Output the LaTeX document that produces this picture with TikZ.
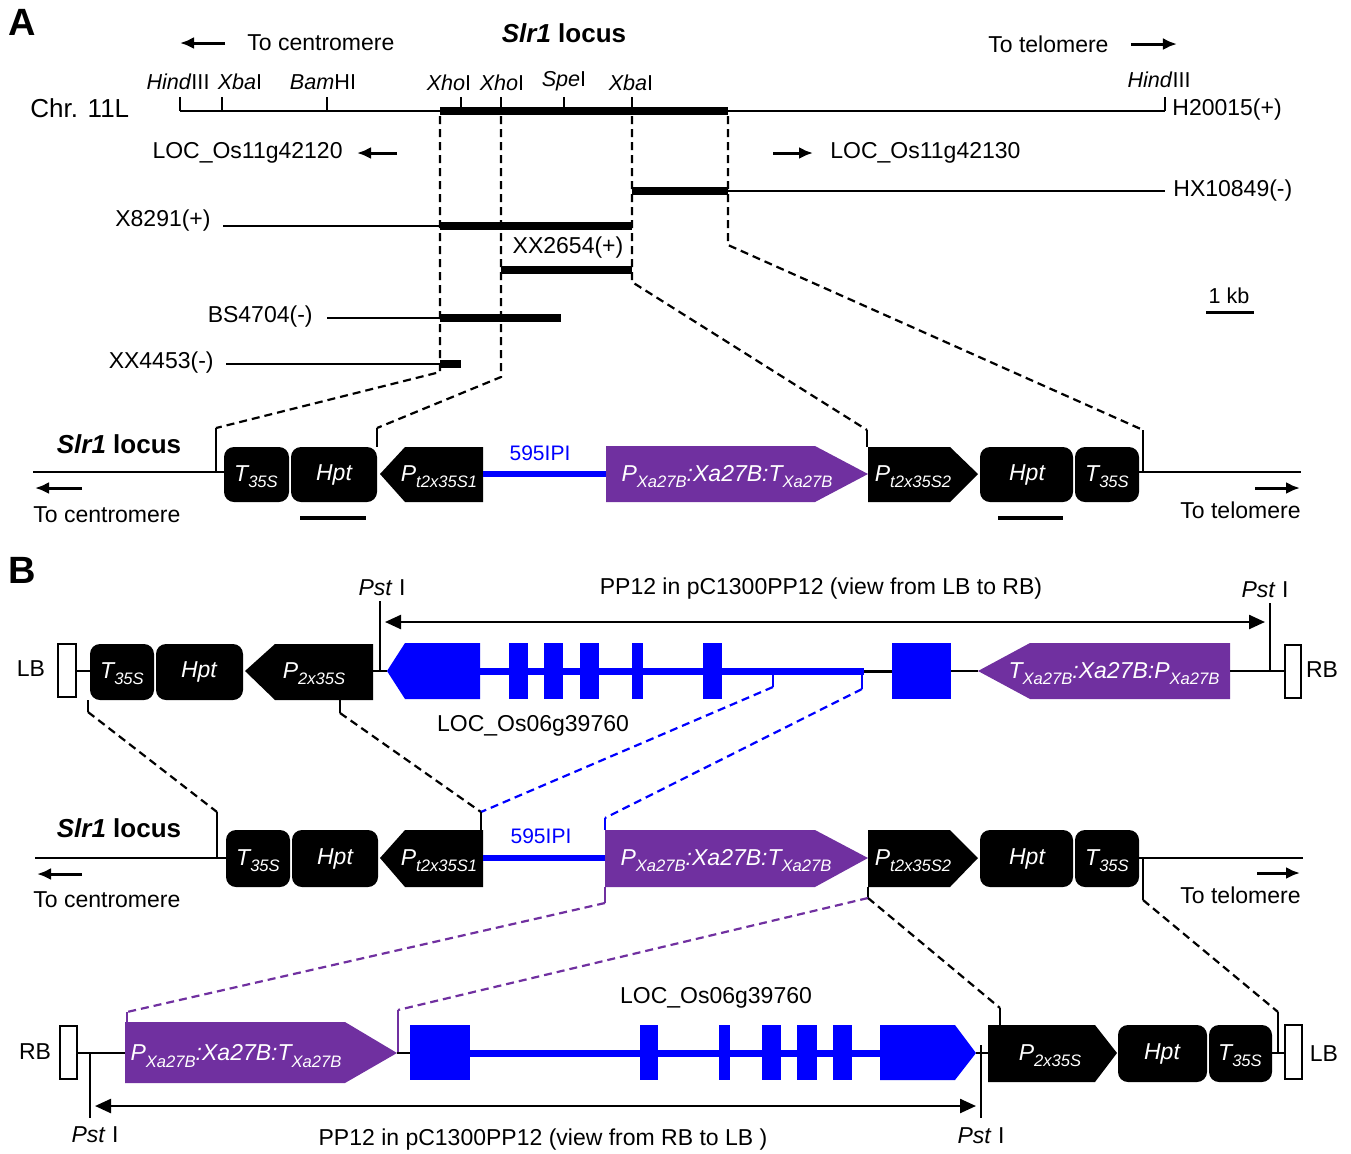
\documentclass[tikz,border=0pt]{standalone}
\usepackage{fontspec}
\setmainfont{Liberation Sans}
\usetikzlibrary{arrows.meta}
\definecolor{geneblue}{RGB}{0,0,255}
\definecolor{xapurple}{RGB}{112,48,160}
\newcommand{\subtxt}[1]{\raisebox{-0.5ex}{\fontsize{8.3}{8}\selectfont\itshape #1}}
\begin{document}
\begin{tikzpicture}[x=0.5pt,y=-0.5pt,
    lbl/.style={font=\fontsize{11.5}{13}\selectfont, inner sep=0pt},
    site/.style={font=\fontsize{10.8}{12}\selectfont, inner sep=0pt},
    ttl/.style={font=\fontsize{13}{15}\selectfont\bfseries, inner sep=0pt},
    panel/.style={font=\fontsize{19}{21}\selectfont\bfseries, inner sep=0pt},
    intxt/.style={text=white, font=\fontsize{11.5}{13}\selectfont\itshape, inner sep=0pt},
    chrom/.style={line width=1pt},
    clone/.style={line width=4pt},
    guide/.style={line width=1.1pt, dash pattern=on 4pt off 2.5pt},
    tick/.style={line width=1pt},
    dirarr/.style={line width=1.5pt, -{Latex[length=7pt,width=6pt]}},
    spanarr/.style={line width=1.2pt, {Triangle[length=8pt,width=7pt]}-{Triangle[length=8pt,width=7pt]}},
    gbox/.style={fill=black, rounded corners=5pt},
    border/.style={draw=black, line width=1pt, fill=white}]
  \useasboundingbox (0,0) rectangle (1351,1153);

  % A: chromosome map
  % ---------------------
  \node[panel] (pA) at (22,22) {A};
  \node[lbl, anchor=west] (cenA) at (247,43) {To centromere};
  \draw[dirarr] ([xshift=-11pt]cenA.west) -- ++(-45,0);
  \node[ttl] (slrA) at (564,33) {\textit{Slr1} locus};
  \node[lbl, anchor=west] (telA) at (988,44) {To telomere};
  \draw[dirarr] ([xshift=11pt]telA.east) -- ++(46,0);
  \node[font=\fontsize{13}{15}\selectfont, inner sep=0pt, anchor=west] (chr) at (30,108) {Chr. 11L};
  \draw[chrom] (180,111) -- (1165,111);
  \draw[clone] (440,111) -- (728,111);
  \foreach \x in {180,222,327,461,501,564,632,1165}
    \draw[tick] (\x,97) -- (\x,111);
  \node[site] (hind1) at (178,82) {\textit{Hind}III};
  \node[site] (xba1) at (240,82) {\textit{Xba}I};
  \node[site] (bam) at (323,82) {\textit{Bam}HI};
  \node[site] (xho1) at (449,83) {\textit{Xho}I};
  \node[site] (xho2) at (502,83) {\textit{Xho}I};
  \node[site] (spe) at (564,81) {\textit{Spe}I};
  \node[site] (xba2) at (631,83) {\textit{Xba}I};
  \node[site] (hind2) at (1159,80) {\textit{Hind}III};
  \node[lbl, anchor=west] (h20015) at (1172,110) {H20015(+)};
  \node[lbl, anchor=east] (loc120) at (343,153) {LOC\_Os11g42120};
  \draw[dirarr] ([xshift=27pt]loc120.east) -- ++(-40,0);
  \node[lbl, anchor=west] (loc130) at (830,153) {LOC\_Os11g42130};
  \draw[dirarr] ([xshift=-28.5pt]loc130.west) -- ++(40,0);

  % BAC clones
  \draw[chrom] (728,191) -- (1165,191);
  \draw[clone] (632,191) -- (728,191);
  \node[lbl, anchor=west] (hx10849) at (1173,191) {HX10849(-)};
  \draw[chrom] (223,226) -- (440,226);
  \draw[clone] (440,226) -- (632,226);
  \node[lbl, anchor=east] (x8291) at (211,221) {X8291(+)};
  \draw[clone] (501,270) -- (632,270);
  \node[lbl] (xx2654) at (568,248) {XX2654(+)};
  \draw[chrom] (327,318) -- (440,318);
  \draw[clone] (440,318) -- (561,318);
  \node[lbl, anchor=east] (bs4704) at (313,317) {BS4704(-)};
  \draw[chrom] (226,364) -- (440,364);
  \draw[clone] (440,364) -- (461,364);
  \node[lbl, anchor=east] (xx4453) at (214,363) {XX4453(-)};
  \node[site] (kb) at (1229,296) {1 kb};
  \draw[line width=1.5pt] (1206,312) -- (1254,312);

  % guides to the locus
  \coordinate (gA1) at (216,428);
  \coordinate (gA2) at (377,428);
  \coordinate (gA3) at (867,430);
  \coordinate (gA4) at (1143,430);
  \draw[guide] (440,116) -- (440,372) -- (gA1);
  \draw[guide] (501,116) -- (501,377) -- (gA2);
  \draw[guide] (632,116) -- (632,282) -- (gA3);
  \draw[guide] (728,116) -- (728,245) -- (gA4);
  \draw[tick] (gA1) -- (216,472);
  \draw[tick] (gA2) -- (377,447);
  \draw[tick] (gA3) -- (867,447);
  \draw[tick] (gA4) -- (1143,472);

  % A: Slr1 locus
  % ---------------------
  \node[ttl] (slrA2) at (119,444) {\textit{Slr1} locus};
  \draw[chrom] (33,472) -- (224,472);
  \draw[chrom] (1139,472) -- (1301,472);
  \fill[gbox] (224,447) rectangle (289,502);
  \fill[gbox] (291,447) rectangle (377,502);
  \fill (380,474) -- (405,447) -- (483,447) -- (483,502) -- (405,502) -- cycle;
  \draw[geneblue, line width=3pt] (483,474) -- (606,474);
  \fill[xapurple] (606,446) -- (815,446) -- (868,474) -- (815,502) -- (606,502) -- cycle;
  \fill (868,447) -- (950,447) -- (978,474) -- (950,502) -- (868,502) -- cycle;
  \fill[gbox] (980,447) rectangle (1073,502);
  \fill[gbox] (1075,447) rectangle (1139,502);
  \node[intxt] (t35a) at (256,477) {T\subtxt{35S}};
  \node[intxt] (hpta) at (334,475) {Hpt};
  \node[intxt] (pt1a) at (439,477) {P\subtxt{t2x35S1}};
  \node[font=\fontsize{10.5}{12}\selectfont, text=geneblue, inner sep=0pt] (ipiA) at (540,453) {595IPI};
  \node[intxt] (xa27a) at (727,477) {P\subtxt{Xa27B}:Xa27B:T\subtxt{Xa27B}};
  \node[intxt] (pt2a) at (913,477) {P\subtxt{t2x35S2}};
  \node[intxt] (hptb) at (1027,475) {Hpt};
  \node[intxt] (t35b) at (1107,477) {T\subtxt{35S}};
  \draw[line width=2pt] (300,518) -- (366,518);
  \draw[line width=2pt] (998,518) -- (1063,518);
  \node[lbl, anchor=west] (cenA2) at (33,515) {To centromere};
  \draw[dirarr] ([yshift=13.5pt, xshift=24.5pt]cenA2.west) -- ++(-47,0);
  \node[lbl, anchor=east] (telA2) at (1301,510) {To telomere};
  \draw[dirarr] ([yshift=11pt, xshift=-23pt]telA2.east) -- ++(45,0);

  % B: pC1300PP12, LB to RB
  % ---------------------
  \node[panel] (pB) at (22,570) {B};
  \node[lbl] (lbB) at (31,669) {LB};
  \draw[border] (58,644) rectangle (76,697);
  \draw[chrom] (76,671) -- (90,671);
  \fill[gbox] (90,644) rectangle (154,700);
  \fill[gbox] (156,644) rectangle (243,700);
  \fill (245,671) -- (275,644) -- (373,644) -- (373,700) -- (275,700) -- cycle;
  \draw[chrom] (373,671) -- (387,671);
  \fill[geneblue] (387,671) -- (405,643) -- (480,643) -- (480,699) -- (405,699) -- cycle;
  \draw[geneblue, line width=3.5pt] (480,671) -- (864,671);
  \foreach \a/\b in {509/528,544/563,580/599,632/643,703/722}
    \fill[geneblue] (\a,643) rectangle (\b,699);
  \draw[line width=1.5pt] (864,671) -- (892,671);
  \fill[geneblue] (892,643) rectangle (951,699);
  \draw[chrom] (951,671) -- (978,671);
  \fill[xapurple] (978,671) -- (1030,643) -- (1230,643) -- (1230,699) -- (1030,699) -- cycle;
  \draw[chrom] (1230,671) -- (1285,671);
  \draw[border] (1285,645) rectangle (1301,698);
  \node[lbl] (rbB) at (1322,670) {RB};
  \node[intxt] (t35c) at (122,674) {T\subtxt{35S}};
  \node[intxt] (hptc) at (199,672) {Hpt};
  \node[intxt] (p2c) at (314,674) {P\subtxt{2x35S}};
  \node[intxt] (xa27c) at (1114,674) {T\subtxt{Xa27B}:Xa27B:P\subtxt{Xa27B}};
  \node[lbl] (locB1) at (533,726) {LOC\_Os06g39760};
  \node[lbl] (pst1) at (382,588) {\textit{Pst} I};
  \node[lbl] (pst2) at (1265,590) {\textit{Pst} I};
  \draw[tick] (380,601) -- (380,671);
  \draw[tick] (1270,603) -- (1270,671);
  \node[lbl] (spanB1) at (821,589) {PP12 in pC1300PP12 (view from LB to RB)};
  \draw[spanarr] (385,622) -- (1265,622);

  % guides to the middle locus
  \coordinate (gB1) at (88,712);
  \coordinate (gB2) at (340,713);
  \coordinate (gB3) at (217,812);
  \coordinate (gB4) at (481,812);
  \coordinate (gB5) at (773,687);
  \coordinate (gB6) at (862,689);
  \coordinate (gB7) at (605,818);
  \draw[tick] (88,700) -- (gB1);
  \draw[tick] (340,700) -- (gB2);
  \draw[guide] (gB1) -- (gB3);
  \draw[guide] (gB2) -- (gB4);
  \draw[geneblue, line width=1pt] (773,671) -- (gB5);
  \draw[geneblue, line width=1pt] (862,671) -- (gB6);
  \draw[guide, geneblue] (gB5) -- (gB4);
  \draw[guide, geneblue] (gB6) -- (gB7);
  \draw[tick] (gB3) -- (217,858);
  \draw[tick] (gB4) -- (481,830);
  \draw[geneblue, line width=1pt] (gB7) -- (605,830);

  % B: Slr1 locus
  % ---------------------
  \node[ttl] (slrB) at (119,828) {\textit{Slr1} locus};
  \draw[chrom] (35,858) -- (226,858);
  \draw[chrom] (1139,858) -- (1303,858);
  \fill[gbox] (226,830) rectangle (290,887);
  \fill[gbox] (292,830) rectangle (378,887);
  \fill (380,858) -- (405,830) -- (483,830) -- (483,887) -- (405,887) -- cycle;
  \draw[geneblue, line width=3pt] (483,858) -- (605,858);
  \fill[xapurple] (605,830) -- (815,830) -- (868,858) -- (815,887) -- (605,887) -- cycle;
  \fill (868,830) -- (950,830) -- (978,858) -- (950,887) -- (868,887) -- cycle;
  \fill[gbox] (980,830) rectangle (1073,887);
  \fill[gbox] (1075,830) rectangle (1139,887);
  \node[intxt] (t35d) at (258,861) {T\subtxt{35S}};
  \node[intxt] (hptd) at (335,859) {Hpt};
  \node[intxt] (pt1d) at (439,861) {P\subtxt{t2x35S1}};
  \node[font=\fontsize{10.5}{12}\selectfont, text=geneblue, inner sep=0pt] (ipiB) at (541,836) {595IPI};
  \node[intxt] (xa27d) at (726,861) {P\subtxt{Xa27B}:Xa27B:T\subtxt{Xa27B}};
  \node[intxt] (pt2d) at (913,861) {P\subtxt{t2x35S2}};
  \node[intxt] (hpte) at (1027,859) {Hpt};
  \node[intxt] (t35e) at (1107,861) {T\subtxt{35S}};
  \node[lbl, anchor=west] (cenB) at (33,900) {To centromere};
  \draw[dirarr] ([yshift=13pt, xshift=24.5pt]cenB.west) -- ++(-45,0);
  \node[lbl, anchor=east] (telB) at (1301,895) {To telomere};
  \draw[dirarr] ([yshift=11pt, xshift=-22pt]telB.east) -- ++(43,0);

  % guides to the lower construct
  \coordinate (gC1) at (605,903);
  \coordinate (gC2) at (868,898);
  \coordinate (gC3) at (1143,900);
  \coordinate (gC4) at (127,1012);
  \coordinate (gC5) at (398,1010);
  \coordinate (gC6) at (1000,1008);
  \coordinate (gC7) at (1278,1012);
  \draw[xapurple, line width=1pt] (605,887) -- (gC1);
  \draw[tick] (868,887) -- (gC2);
  \draw[tick] (1143,858) -- (gC3);
  \draw[guide, xapurple] (gC1) -- (gC4);
  \draw[guide, xapurple] (gC2) -- (gC5);
  \draw[guide] (gC2) -- (gC6);
  \draw[guide] (gC3) -- (gC7);
  \draw[xapurple, line width=1pt] (gC4) -- (127,1022);
  \draw[xapurple, line width=1pt] (gC5) -- (398,1053);
  \draw[tick] (gC6) -- (1000,1025);
  \draw[tick] (gC7) -- (1278,1053);

  % B: pC1300PP12, RB to LB
  % ---------------------
  \node[lbl] (rbC) at (35,1052) {RB};
  \draw[border] (60,1026) rectangle (77,1079);
  \draw[chrom] (77,1053) -- (125,1053);
  \fill[xapurple] (125,1022) -- (345,1022) -- (397,1053) -- (345,1083) -- (125,1083) -- cycle;
  \draw[chrom] (397,1053) -- (410,1053);
  \fill[geneblue] (410,1025) rectangle (470,1080);
  \draw[geneblue, line width=3.5pt] (470,1053) -- (880,1053);
  \foreach \a/\b in {640/658,719/730,762/781,797/817,833/852}
    \fill[geneblue] (\a,1025) rectangle (\b,1080);
  \fill[geneblue] (880,1025) -- (955,1025) -- (976,1053) -- (955,1080) -- (880,1080) -- cycle;
  \draw[chrom] (976,1053) -- (988,1053);
  \fill (988,1025) -- (1095,1025) -- (1117,1053) -- (1095,1082) -- (988,1082) -- cycle;
  \fill[gbox] (1118,1025) rectangle (1207,1082);
  \fill[gbox] (1209,1025) rectangle (1272,1082);
  \draw[chrom] (1272,1053) -- (1285,1053);
  \draw[border] (1285,1025) rectangle (1302,1079);
  \node[lbl] (lbC) at (1324,1054) {LB};
  \node[intxt] (xa27f) at (236,1056) {P\subtxt{Xa27B}:Xa27B:T\subtxt{Xa27B}};
  \node[intxt] (p2f) at (1050,1056) {P\subtxt{2x35S}};
  \node[intxt] (hptf) at (1162,1054) {Hpt};
  \node[intxt] (t35f) at (1240,1056) {T\subtxt{35S}};
  \node[lbl] (locB2) at (716,998) {LOC\_Os06g39760};
  \draw[tick] (90,1053) -- (90,1118);
  \draw[tick] (981,1045) -- (981,1118);
  \node[lbl] (pst3) at (95,1135) {\textit{Pst} I};
  \node[lbl] (pst4) at (981,1136) {\textit{Pst} I};
  \draw[spanarr] (95,1106) -- (976,1106);
  \node[lbl] (spanB2) at (543,1140) {PP12 in pC1300PP12 (view from RB to LB )};
\end{tikzpicture}
\end{document}
